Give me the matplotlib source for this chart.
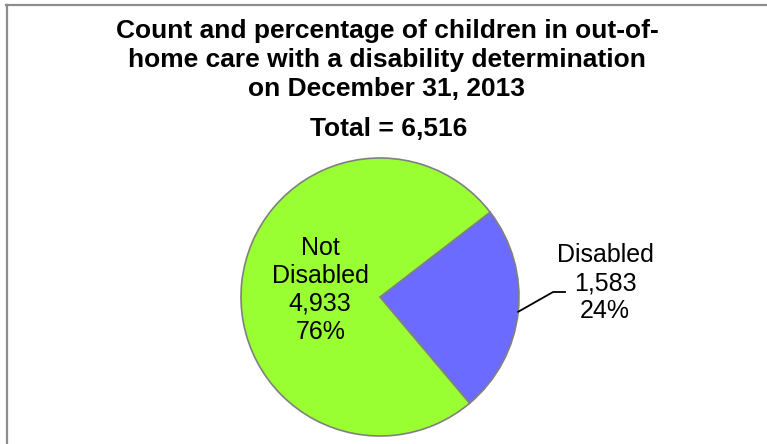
import numpy as np
import matplotlib
matplotlib.use("Agg")
import matplotlib.pyplot as plt
from matplotlib.lines import Line2D

plt.rcParams['font.family'] = ['Liberation Sans', 'DejaVu Sans']

# data
categories = ['Disabled', 'Not\nDisabled']
counts = [1583, 4933]
colors = ['#6B6BFF', '#99FF33']

total = sum(counts)
pcts = [100 * c / total for c in counts]

fig = plt.figure(figsize=(7.67, 4.44), dpi=100)

# frame lines (left and top only visible)
fig.add_artist(Line2D([0.0085, 0.0085], [0, 0.989], transform=fig.transFigure,
                      color='#8c8c8c', lw=1.6))
fig.add_artist(Line2D([0.0075, 1.0], [0.989, 0.989], transform=fig.transFigure,
                      color='#8c8c8c', lw=1.6))

# title
fig.text(387 / 767, 1 - 60 / 444, "Count and percentage of children in out-of-\n"
         "home care with a disability determination\non December 31, 2013",
         ha='center', va='center', fontsize=19, fontweight='bold', linespacing=1.27)
fig.text(389 / 767, 1 - 129 / 444, f"Total = {total:,}", ha='center', va='center',
         fontsize=19, fontweight='bold')

# pie: center ~ (380, 297) px, radius ~139 px
r = 139 / 444
ax = fig.add_axes([380 / 767 - r * 444 / 767, 1 - 297 / 444 - r, 2 * r * 444 / 767, 2 * r])
wedges, _ = ax.pie(counts, colors=colors, startangle=37.6, counterclock=False,
                   wedgeprops=dict(edgecolor='#808080', linewidth=1.2))
ax.set_xlim(-1, 1)
ax.set_ylim(-1, 1)
ax.set_aspect('equal')

# inside label for Not Disabled
ax.text(-0.43, 0.05, f"{categories[1]}\n{counts[1]:,}\n{pcts[1]:.0f}%",
        ha='center', va='center', fontsize=18, linespacing=1.2)

# outside label for Disabled with leader line
ax.text(1.62, 0.10, f"{categories[0]}\n{counts[0]:,}\n{pcts[0]:.0f}%",
        ha='center', va='center', fontsize=18, linespacing=1.2)
edge_ang = np.deg2rad(-6.1)
ax.plot([np.cos(edge_ang), 1.245, 1.331], [np.sin(edge_ang), 0.036, 0.036],
        color='black', lw=1.3, clip_on=False)

fig.savefig('out.png', dpi=100)
